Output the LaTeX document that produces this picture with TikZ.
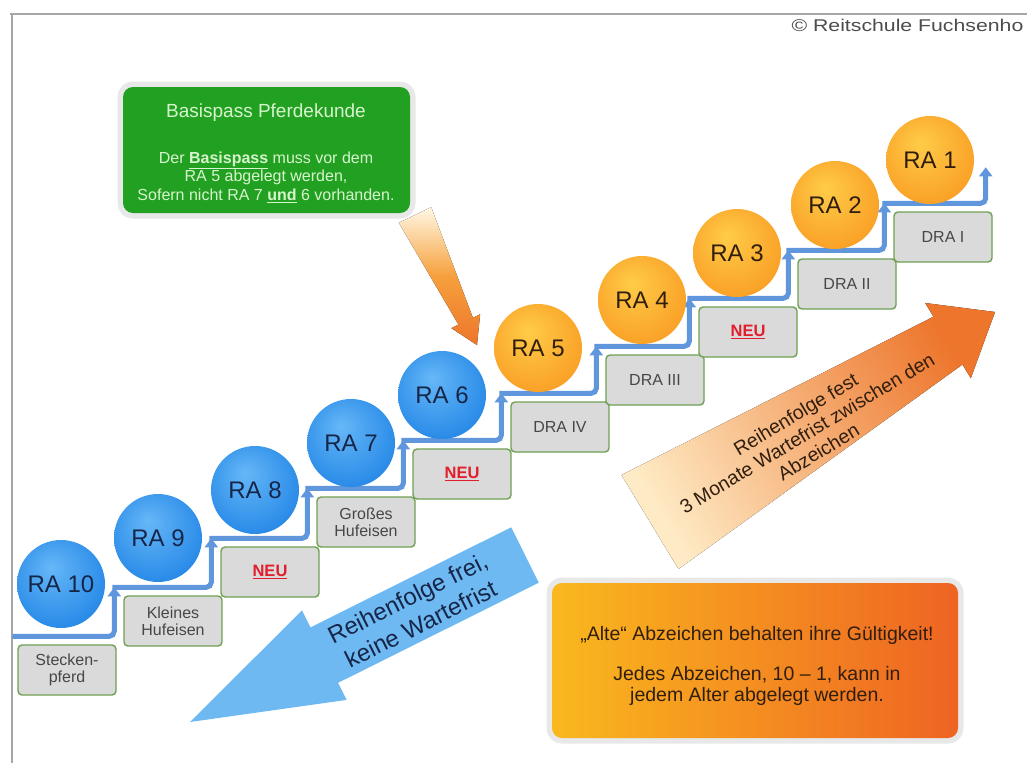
\documentclass[tikz,border=0pt]{standalone}
\usepackage{fontspec}
\setmainfont{Liberation Sans}
\usetikzlibrary{calc, arrows.meta}

\definecolor{stepblue}{RGB}{96,150,220}
\definecolor{boxgreen}{RGB}{112,160,82}
\definecolor{boxgray}{RGB}{218,218,218}
\definecolor{passgreen}{RGB}{34,160,34}
\definecolor{passtext}{RGB}{215,245,205}
\definecolor{neured}{RGB}{225,30,45}
\definecolor{arrowblue}{RGB}{110,185,242}
\definecolor{paleorange}{RGB}{255,248,228}
\definecolor{tailorange}{RGB}{254,234,196}
\definecolor{midorange}{RGB}{246,160,60}
\definecolor{darkorange}{RGB}{237,118,44}
\definecolor{infoyellow}{RGB}{250,184,30}
\definecolor{infored}{RGB}{238,100,35}
\definecolor{bluetext}{RGB}{22,38,72}
\definecolor{browntext}{RGB}{48,30,14}

\pgfdeclareradialshading{ballblue}{\pgfpoint{-6bp}{10bp}}{rgb(0bp)=(0.40,0.72,0.97); rgb(28bp)=(0.17,0.55,0.91); rgb(50bp)=(0.09,0.42,0.80)}
\pgfdeclareradialshading{ballorange}{\pgfpoint{-6bp}{10bp}}{rgb(0bp)=(1.00,0.80,0.28); rgb(28bp)=(0.98,0.64,0.16); rgb(50bp)=(0.94,0.50,0.10)}

\begin{document}
\begin{tikzpicture}[x=1pt, y=-1pt,
	stepbox/.style={draw=boxgreen, line width=1.4pt, rounded corners=4pt, fill=boxgray, minimum width=98pt, minimum height=50pt, inner sep=0pt, align=center, text=black!72, font=\fontsize{16}{17}\selectfont},
	neubox/.style={stepbox, text=neured, font=\fontsize{16.5}{17}\selectfont\bfseries},
	ball/.style={circle, minimum size=88pt, inner sep=0pt, font=\fontsize{24}{24}\selectfont},
	blueball/.style={ball, shading=ballblue, text=bluetext},
	orangeball/.style={ball, shading=ballorange, text=browntext},
	stepline/.style={stepblue, line width=5pt, rounded corners=5pt, -{Triangle[length=9pt,width=13pt]}},
	halo/.style={preaction={draw=black!9, line width=11pt}}]
	\useasboundingbox (0,0) rectangle (1027,763);
	% frame
	\draw [black!35, line width=2pt] (10,14) -- (1027,14) (12,14) -- (12,763);
	\node [anchor=west, text=black!70, font=\fontsize{17}{17}\selectfont] (copy) at (788,25) {\scalebox{1.25}[1]{© Reitschule Fuchsenho}};

	% steps
	\node [stepbox] (b1) at (67,670) {Stecken-\\pferd};
	\node [stepbox] (b2) at (173,621) {Kleines\\Hufeisen};
	\node [neubox] (b3) at (270,572) {\underline{NEU}};
	\node [stepbox] (b4) at (366,522) {Großes\\Hufeisen};
	\node [neubox] (b5) at (462,474) {\underline{NEU}};
	\node [stepbox] (b6) at (560,427) {DRA IV};
	\node [stepbox] (b7) at (655,380) {DRA III};
	\node [neubox] (b8) at (748,332) {\underline{NEU}};
	\node [stepbox] (b9) at (847,284) {DRA II};
	\node [stepbox] (b10) at (943,237) {DRA I};

	\coordinate (start) at ($(b1.north west)+(-5,-8)$);
	\coordinate (goal) at ($(b10.north east)+(-7,-44)$);
	\draw [stepline] (start) -| ($(b2.north west)+(-9,-8)$);
	\foreach \a/\b in {2/3,3/4,4/5,5/6,6/7,7/8,8/9,9/10}
		\draw [stepline] ($(b\a.north west)+(-11,-8)$) -| ($(b\b.north west)+(-9,-8)$);
	\draw [stepline] ($(b10.north west)+(-11,-8)$) -| (goal);

	% badges
	\node [blueball] (r10) at (61,584) {RA 10};
	\node [blueball] (r9) at (158,538) {RA 9};
	\node [blueball] (r8) at (255,490) {RA 8};
	\node [blueball] (r7) at (351,443) {RA 7};
	\node [blueball] (r6) at (442,395) {RA 6};
	\node [orangeball] (r5) at (538,348) {RA 5};
	\node [orangeball] (r4) at (642,300) {RA 4};
	\node [orangeball] (r3) at (737,253) {RA 3};
	\node [orangeball] (r2) at (835,205) {RA 2};
	\node [orangeball] (r1) at (930,160) {RA 1};

	% Basispass
	\node [halo, fill=passgreen, rounded corners=10pt, minimum width=287pt, minimum height=126pt] (pass) at (266.5,150) {};
	\node [text=passtext, font=\fontsize{19}{21}\selectfont] (passhead) at (266,113) {Basispass Pferdekunde};
	\node [text=passtext, align=center, font=\fontsize{16}{18.5}\selectfont] (passbody) at (266,177) {Der \underline{\textbf{Basispass}} muss vor dem\\RA 5 abgelegt werden,\\Sofern nicht RA 7 \underline{\textbf{und}} 6 vorhanden.};
	\fill [top color=paleorange, bottom color=darkorange, middle color=midorange] (398.8,222.7) -- (458.5,324.6) -- (451.3,328.1) -- (477,345) -- (480.1,314.3) -- (472.9,317.8) -- (431.2,207.3) -- cycle;

	% big arrows
	\fill [arrowblue] (511.2,527.3) -- (310.5,627.4) -- (302,610.4) -- (190,722) -- (346.6,699.9) -- (338.1,682.8) -- (538.8,582.7) -- cycle;
	\node [rotate=26.5, align=center, text=bluetext, font=\fontsize{24}{29}\selectfont] (frei) at (414,611) {Reihenfolge frei,\\keine Wartefrist};
	\fill [left color=tailorange, middle color=midorange, right color=darkorange, shading angle=121] (621.5,475) -- (933.5,316.7) -- (925.2,303) -- (995,312) -- (970.8,378.2) -- (962.5,364.5) -- (678.5,569) -- cycle;
	\node [rotate=31, align=center, text=browntext, font=\fontsize{19.5}{22}\selectfont] (fest) at (807,433) {Reihenfolge fest\\3 Monate Wartefrist zwischen den\\Abzeichen};

	% info
	\node [halo, left color=infoyellow, right color=infored, rounded corners=10pt, minimum width=406pt, minimum height=155pt] (info) at (755,660.5) {};
	\node [text=browntext, font=\fontsize{19.5}{21}\selectfont] (infohead) at (757,635) {„Alte“ Abzeichen behalten ihre Gültigkeit!};
	\node [text=browntext, align=center, font=\fontsize{19.5}{20.5}\selectfont] (infobody) at (757,686) {Jedes Abzeichen, 10 – 1, kann in\\jedem Alter abgelegt werden.};
\end{tikzpicture}
\end{document}
